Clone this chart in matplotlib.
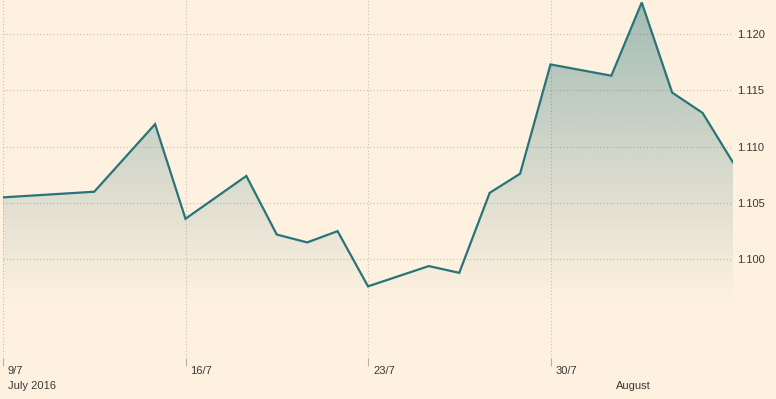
import numpy as np
import matplotlib
matplotlib.use("Agg")
from matplotlib import pyplot as plt
import matplotlib.transforms as mtransforms
from matplotlib.patches import Polygon

plt.rcParams['font.family'] = ['Liberation Sans', 'DejaVu Sans']

# trading-slot positions (6 slots per calendar week) and EUR/USD closes
slots = [0, 3, 5, 6, 8, 9, 10, 11, 12, 14, 15, 16, 17, 18, 20, 21, 22, 23, 24]
rates = [1.1055, 1.1060, 1.1120, 1.1036, 1.1074, 1.1022, 1.1015, 1.1025,
         1.0976, 1.0994, 1.0988, 1.1059, 1.1076, 1.1173, 1.1163, 1.1228,
         1.1148, 1.1130, 1.1086]

week_ticks = [0, 6, 12, 18]
week_labels = ["9/7", "16/7", "23/7", "30/7"]
month_ticks = [0, 20]
month_labels = ["July 2016", "August"]
y_ticks = [1.100, 1.105, 1.110, 1.115, 1.120]

bg = "#fff1e0"
line_col = "#287478"
grid_col = "#c9bfb2"
text_col = "#3a3836"

fig = plt.figure(figsize=(7.76, 3.99), dpi=100, facecolor=bg)
ax = fig.add_axes([3 / 776, 41 / 399, 730 / 776, 358 / 399])
ax.set_facecolor(bg)

ymin, ymax = 1.09124, 1.12302
ax.set_xlim(slots[0], slots[-1])
ax.set_ylim(ymin, ymax)

# gradient fill under the line
alpha_top, alpha_zero = 0.43, 1.0961
ys = np.linspace(ymax, ymin, 400)
alpha = np.clip(alpha_top * (ys - alpha_zero) / (ymax - alpha_zero), 0, 1)
rgb = matplotlib.colors.to_rgb(line_col)
img = np.zeros((400, 1, 4))
img[:, 0, :3] = rgb
img[:, 0, 3] = alpha
im = ax.imshow(img, extent=[slots[0], slots[-1], ymin, ymax], aspect='auto',
               origin='upper', zorder=1, interpolation='bilinear')
verts = list(zip(slots, rates)) + [(slots[-1], ymin), (slots[0], ymin)]
clip = Polygon(verts, transform=ax.transData, facecolor='none', edgecolor='none')
ax.add_patch(clip)
im.set_clip_path(clip)

ax.plot(slots, rates, color=line_col, lw=1.6, zorder=3, solid_joinstyle='miter')

# grid
for y in y_ticks:
    ax.axhline(y, color=grid_col, lw=0.8, ls=(0, (1, 2)), zorder=0)
for x in week_ticks:
    ax.axvline(x, color=grid_col, lw=0.8, ls=(0, (1, 2)), zorder=0)

for s in ax.spines.values():
    s.set_visible(False)

ax.yaxis.tick_right()
ax.set_yticks(y_ticks)
ax.set_yticklabels(["%.3f" % v for v in y_ticks], fontsize=8, color=text_col)
ax.tick_params(axis='y', length=0, pad=3)

ax.set_xticks(week_ticks)
ax.set_xticklabels([])
ax.tick_params(axis='x', length=6, width=0.8, color="#b9b1a6", direction='out')

trans = mtransforms.blended_transform_factory(ax.transData, ax.transAxes)
trans = mtransforms.offset_copy(trans, fig=fig, x=5, y=0, units='dots')
for x, lab in zip(week_ticks, week_labels):
    ax.text(x, -0.037, lab, transform=trans, ha='left', va='center',
            fontsize=8, color=text_col, clip_on=False)
for x, lab in zip(month_ticks, month_labels):
    ax.text(x, -0.079, lab, transform=trans, ha='left', va='center',
            fontsize=8, color=text_col, clip_on=False)

fig.savefig("out.png", dpi=100, facecolor=bg)
